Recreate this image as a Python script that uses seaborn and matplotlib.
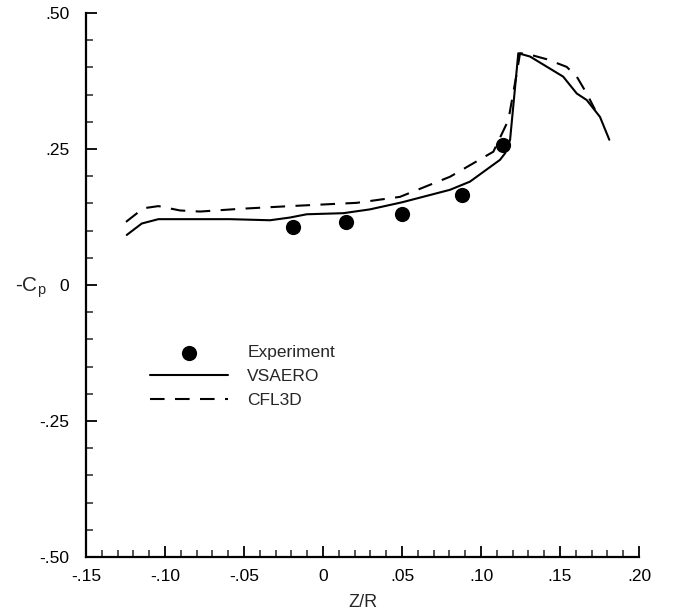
import matplotlib
matplotlib.use("Agg")
import matplotlib.pyplot as plt
from matplotlib.ticker import MultipleLocator, FixedLocator
import seaborn as sns
import pandas as pd

# values
exp_z = [-0.019, 0.0146, 0.050, 0.0878, 0.1137]
exp_cp = [0.106, 0.116, 0.130, 0.165, 0.257]

vsaero_z = [-0.1242, -0.1147, -0.1042, -0.0589, -0.0335, -0.0209, -0.0103, 0.0129, 0.0297,
            0.0500, 0.0804, 0.093, 0.112, 0.1152, 0.1184, 0.1236, 0.131, 0.152, 0.1606,
            0.1669, 0.1753, 0.1812]
vsaero_cp = [0.092, 0.113, 0.121, 0.121, 0.119, 0.124, 0.130, 0.132, 0.139,
             0.152, 0.175, 0.190, 0.230, 0.242, 0.267, 0.426, 0.420, 0.383, 0.352,
             0.340, 0.309, 0.267]

cfl3d_z = [-0.1247, -0.1137, -0.1042, -0.0905, -0.0778, -0.0525, -0.0209, 0.0213, 0.0487,
           0.0804, 0.1078, 0.1173, 0.1226, 0.1247, 0.129, 0.1416, 0.1542, 0.1606, 0.1669,
           0.1722]
cfl3d_cp = [0.116, 0.141, 0.145, 0.137, 0.135, 0.140, 0.145, 0.151, 0.162,
            0.199, 0.245, 0.303, 0.389, 0.426, 0.425, 0.415, 0.401, 0.383, 0.352,
            0.322]

x_ticks = [-0.15, -0.10, -0.05, 0, 0.05, 0.10, 0.15, 0.20]
x_labels = ["-.15", "-.10", "-.05", "0", ".05", ".10", ".15", ".20"]
y_ticks = [-0.50, -0.25, 0, 0.25, 0.50]
y_labels = ["-.50", "-.25", "0", ".25", ".50"]

sns.set_style("ticks")
plt.rcParams['font.family'] = ['Liberation Sans', 'DejaVu Sans']

fig = plt.figure(figsize=(6.73, 6.13), dpi=100)
ax = fig.add_axes([0.1278, 0.0914, 0.8217, 0.8874])

exp = pd.DataFrame({"z": exp_z, "cp": exp_cp})
vs = pd.DataFrame({"z": vsaero_z, "cp": vsaero_cp})
cf = pd.DataFrame({"z": cfl3d_z, "cp": cfl3d_cp})

sns.scatterplot(data=exp, x="z", y="cp", ax=ax, color="black", s=120,
                edgecolor="black", linewidth=0, label="Experiment", zorder=3)
sns.lineplot(data=vs, x="z", y="cp", ax=ax, color="black", lw=1.5, sort=False,
             estimator=None, label="VSAERO")
sns.lineplot(data=cf, x="z", y="cp", ax=ax, color="black", lw=1.5, sort=False,
             estimator=None, label="CFL3D", linestyle=(0, (7, 5)))

ax.set_xlim(-0.15, 0.20)
ax.set_ylim(-0.50, 0.50)
ax.xaxis.set_major_locator(FixedLocator(x_ticks))
ax.set_xticklabels(x_labels)
ax.yaxis.set_major_locator(FixedLocator(y_ticks))
ax.set_yticklabels(y_labels)
ax.xaxis.set_minor_locator(MultipleLocator(0.01))
ax.yaxis.set_minor_locator(MultipleLocator(0.05))
ax.tick_params(which="major", direction="in", length=8, width=1.3, labelsize=12.5,
               colors="black")
ax.tick_params(which="minor", direction="in", length=5, width=1.1)
ax.tick_params(axis="y", pad=12)
ax.tick_params(axis="x", pad=9)

sns.despine(ax=ax)
for s in ["left", "bottom"]:
    ax.spines[s].set_linewidth(1.6)
    ax.spines[s].set_color("black")

ax.set_xlabel("Z/R", fontsize=13)
ax.xaxis.set_label_coords(0.50, -0.068)
ax.set_ylabel("-C$_\\mathregular{p}$", fontsize=15, rotation=0, va="center")
ax.yaxis.set_label_coords(-0.10, 0.495)

ax.legend(loc="upper left", bbox_to_anchor=(0.10, 0.405), frameon=False,
          fontsize=12.5, handlelength=4.5, handletextpad=1.1, labelspacing=0.5,
          borderpad=0)

fig.savefig("out.png", dpi=100)
